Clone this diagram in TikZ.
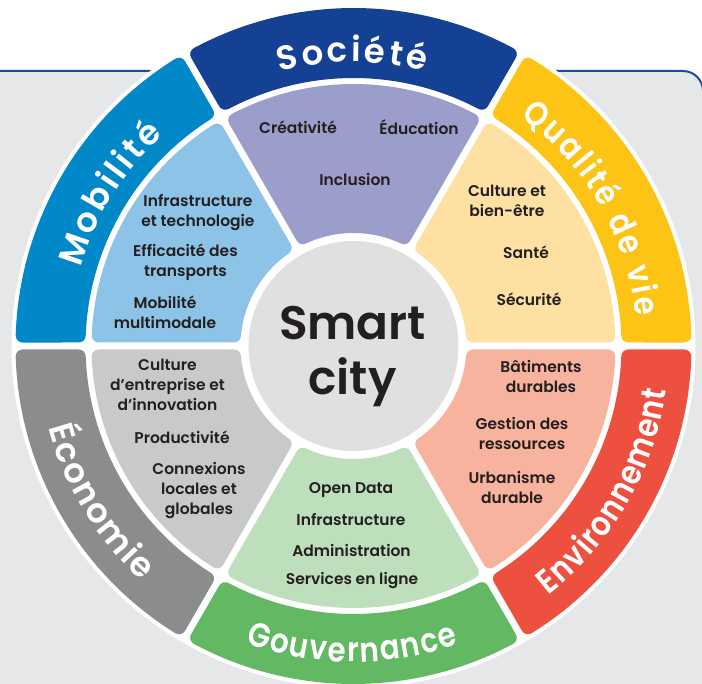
\documentclass[tikz,border=0pt]{standalone}
\usepackage{fontspec}
\usetikzlibrary{decorations.text}
\setmainfont{Poppins}
\newfontfamily\medfont{Poppins SemiBold}
\newfontfamily\semifont{Poppins SemiBold}
\newfontfamily\outerfont{Poppins SemiBold}
\newfontfamily\outernarrow{Poppins SemiBold}[FakeStretch=0.86]
\definecolor{panel}{RGB}{230,231,233}
\definecolor{panelline}{RGB}{30,75,155}
\definecolor{txt}{RGB}{35,31,32}
\definecolor{ctr}{RGB}{224,224,225}
\definecolor{socO}{RGB}{21,65,148}
\definecolor{socI}{RGB}{155,157,202}
\definecolor{mobO}{RGB}{0,136,200}
\definecolor{mobI}{RGB}{141,195,231}
\definecolor{qualO}{RGB}{253,195,21}
\definecolor{qualI}{RGB}{255,224,163}
\definecolor{envO}{RGB}{238,80,64}
\definecolor{envI}{RGB}{248,179,158}
\definecolor{gouvO}{RGB}{99,184,99}
\definecolor{gouvI}{RGB}{190,223,187}
\definecolor{ecoO}{RGB}{139,140,142}
\definecolor{ecoI}{RGB}{200,201,203}
\def\sgRc{7}
\def\sgD{10.5}
\newcommand\wheelseg[5]{%
 \pgfmathsetmacro\sgRi{#3+\sgRc}%
 \pgfmathsetmacro\sgRo{#4-\sgRc}%
 \pgfmathsetmacro\sgAi{asin(\sgD/\sgRi)}%
 \pgfmathsetmacro\sgAo{asin(\sgD/\sgRo)}%
 \pgfmathsetmacro\sgA{#1+\sgAi}\pgfmathsetmacro\sgB{#1+\sgAo}%
 \pgfmathsetmacro\sgC{#2-\sgAo}\pgfmathsetmacro\sgE{#2-\sgAi}%
 \filldraw[fill=#5, draw=#5, line width=14pt, line join=round]
   (\sgA:\sgRi) -- (\sgB:\sgRo) arc[start angle=\sgB, end angle=\sgC, radius=\sgRo]
   -- (\sgE:\sgRi) arc[start angle=\sgE, end angle=\sgA, radius=\sgRi] -- cycle;
}
\def\outerstyle{\color{white}\outerfont\fontsize{34}{34}\selectfont}
\def\outerstylen{\color{white}\outernarrow\fontsize{34}{34}\selectfont}
\begin{document}
\begin{tikzpicture}[x=1pt,y=1pt,inner sep=0pt,
  lab/.style={font=\medfont\fontsize{15.5}{20}\selectfont, text=txt, align=center},
  toplabel/.style={decorate, decoration={text along path, text align={fit to path}, text={|\outerstyle|#1}}},
  narrowlabel/.style={decorate, decoration={text along path, text align={fit to path}, text={|\outerstylen|#1}}}]
\useasboundingbox (-353.5,-338) rectangle (348.5,346);
% panel
\fill[panel] (-353.5,275) -- (329.5,275) arc[start angle=90, end angle=0, radius=20] -- (349.5,-338) -- (-353.5,-338) -- cycle;
\draw[panelline, line width=2pt] (-353.5,275) -- (329.5,275) arc[start angle=90, end angle=0, radius=20] -- (349.5,-338);
% white disc
\fill[white] (0,0) circle[radius=342];
% outer ring
\wheelseg{60}{120}{268}{338}{socO}
\wheelseg{120}{180}{268}{338}{mobO}
\wheelseg{180}{240}{268}{338}{ecoO}
\wheelseg{240}{300}{268}{338}{gouvO}
\wheelseg{300}{360}{268}{338}{envO}
\wheelseg{0}{60}{268}{338}{qualO}
% inner ring
\wheelseg{60}{120}{113}{262}{socI}
\wheelseg{120}{180}{113}{262}{mobI}
\wheelseg{180}{240}{113}{262}{ecoI}
\wheelseg{240}{300}{113}{262}{gouvI}
\wheelseg{300}{360}{113}{262}{envI}
\wheelseg{0}{60}{113}{262}{qualI}
% centre
\fill[ctr] (0,0) circle[radius=105];
\node[font=\semifont\fontsize{47}{52}\selectfont, text=txt, anchor=base] (smart) at (-1,6) {Smart};
\node[font=\semifont\fontsize{47}{52}\selectfont, text=txt, anchor=base] (city) at (-1,-49) {city};
% outer labels
\path[toplabel=Société] (105:284) arc[start angle=105, end angle=75.5, radius=284];
\path[toplabel=Mobilité] (164:284) arc[start angle=164, end angle=132, radius=284];
\path[narrowlabel={Qualité de vie}] (54:284) arc[start angle=54, end angle=6, radius=284];
\path[toplabel=Économie] (195:316) arc[start angle=195, end angle=228, radius=316];
\path[narrowlabel=Gouvernance] (250:316) arc[start angle=250, end angle=289.5, radius=316];
\path[narrowlabel=Environnement] (308:316) arc[start angle=308, end angle=352, radius=316];
% inner labels
\node[lab] (crea) at (-55.5,219) {Créativité};
\node[lab] (educ) at (65.5,219) {Éducation};
\node[lab] (incl) at (1.5,166) {Inclusion};
\node[lab] (infra) at (-155.5,133) {Infrastructure\\et technologie};
\node[lab] (effi) at (-168,84) {Efficacité des\\transports};
\node[lab] (multi) at (-188.5,34) {Mobilité\\multimodale};
\node[lab] (cult) at (153.5,145.5) {Culture et\\bien-être};
\node[lab] (sante) at (172.5,94) {Santé};
\node[lab] (secu) at (175.5,47) {Sécurité};
\node[lab] (entr) at (-186,-39) {Culture\\d’entreprise et\\d’innovation};
\node[lab] (prod) at (-171.5,-91) {Productivité};
\node[lab] (conn) at (-154.5,-145) {Connexions\\locales et\\globales};
\node[lab] (bat) at (187.5,-30) {Bâtiments\\durables};
\node[lab] (gest) at (168.5,-87) {Gestion des\\ressources};
\node[lab] (urba) at (158.5,-141) {Urbanisme\\durable};
\node[lab] (open) at (-2.5,-144) {Open Data};
\node[lab] (infr2) at (-2.5,-174) {Infrastructure};
\node[lab] (admin) at (-2,-204) {Administration};
\node[lab] (serv) at (-1.5,-235) {Services en ligne};
\end{tikzpicture}
\end{document}
